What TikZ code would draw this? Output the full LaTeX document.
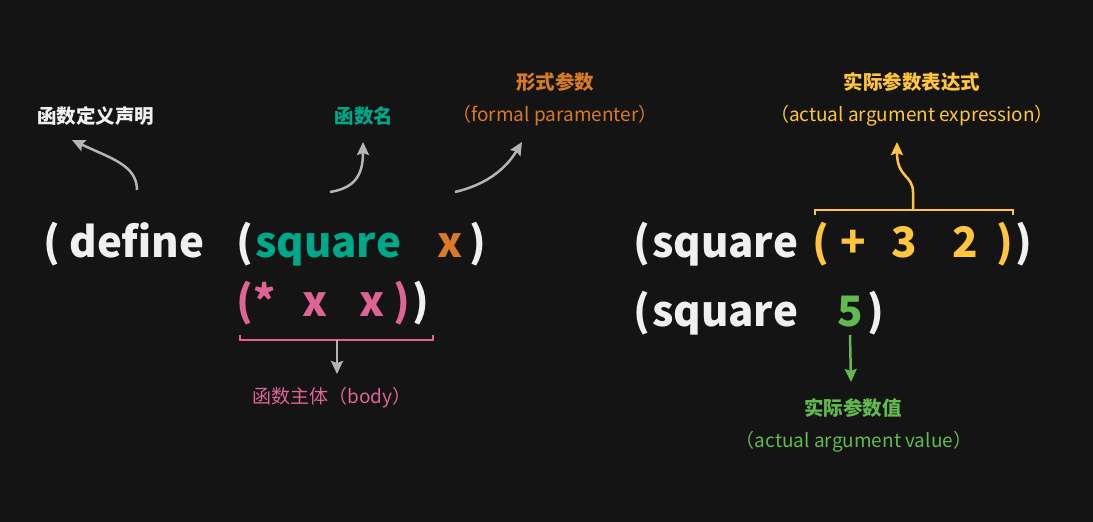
\documentclass[tikz,border=0pt]{standalone}
\usepackage{fontspec}
\setmainfont{Noto Sans CJK SC}
\usetikzlibrary{arrows.meta}

\definecolor{bg}{HTML}{141414}
\definecolor{codewhite}{HTML}{F0F0F0}
\definecolor{nameteal}{HTML}{00A88A}
\definecolor{paramorange}{HTML}{D97A26}
\definecolor{bodypink}{HTML}{DE6496}
\definecolor{argyellow}{HTML}{FFC53D}
\definecolor{valgreen}{HTML}{62B950}
\definecolor{arrowgray}{HTML}{B4B4B4}

\begin{document}
\begin{tikzpicture}[
    x=1pt, y=1pt,
    % styles for code tokens and annotations
    token/.style={font=\bfseries\fontsize{42}{50}\selectfont, anchor=base, inner sep=0pt, text=codewhite},
    cnlabel/.style={font=\bfseries\fontsize{19.5}{23}\selectfont, inner sep=0pt},
    enlabel/.style={font=\fontsize{19}{23}\selectfont, inner sep=0pt},
    pointer/.style={line width=2.5pt, -{Stealth[length=13pt, width=12pt, inset=2pt]}},
    brace/.style={line width=2.7pt},
]
\fill[bg] (0,0) rectangle (1093,522);

% -------------------------
% Definition: (define (square x) (* x x))
% -------------------------
\node (def-open) [token] at (52,264) {(};
\node (def-kw) [token] at (137,264) {define};
\node (sig-open) [token] at (245,264) {(};
\node (sig-name) [token, text=nameteal] at (328,264) {square};
\node (sig-param) [token, text=paramorange] at (450,264) {x};
\node (sig-close) [token] at (478,264) {)};

\node (body-open) [token, text=bodypink] at (245,205) {(};
\node (body-op) [token, text=bodypink] at (265,205) {*};
\node (body-x1) [token, text=bodypink] at (315,205) {x};
\node (body-x2) [token, text=bodypink] at (372,205) {x};
\node (body-close) [token, text=bodypink] at (402,205) {)};
\node (def-close) [token] at (421,205) {)};

% -------------------------
% Calls: (square (+ 3 2)) and (square 5)
% -------------------------
\node (call1-open) [token] at (642,264) {(};
\node (call1-name) [token] at (725,264) {square};
\node (expr-open) [token, text=argyellow] at (821,264) {(};
\node (expr-op) [token, text=argyellow] at (853,264) {+};
\node (expr-a) [token, text=argyellow] at (904,264) {3};
\node (expr-b) [token, text=argyellow] at (965,264) {2};
\node (expr-close) [token, text=argyellow] at (1005,264) {)};
\node (call1-close) [token] at (1024,264) {)};

\node (call2-open) [token] at (642,195) {(};
\node (call2-name) [token] at (725,195) {square};
\node (call2-val) [token, text=valgreen] at (850,195) {5};
\node (call2-close) [token] at (876,195) {)};

% -------------------------
% Annotations
% -------------------------
\node (def-cn) [cnlabel, text=codewhite] at (96,406) {函数定义声明};
\node (name-cn) [cnlabel, text=nameteal] at (364,406) {函数名};
\node (param-cn) [cnlabel, text=paramorange] at (555,440) {形式参数};
\node (param-en) [enlabel, text=paramorange] at (555,406) {（formal paramenter）};
\node (body-cn) [enlabel, text=bodypink] at (332,124) {函数主体（body）};
\node (expr-cn) [cnlabel, text=argyellow] at (912,440) {实际参数表达式};
\node (expr-en) [enlabel, text=argyellow] at (912,406) {（actual argument expression）};
\node (val-cn) [cnlabel, text=valgreen] at (853,114) {实际参数值};
\node (val-en) [enlabel, text=valgreen] at (854,80) {（actual argument value）};

% -------------------------
% Connectors
% -------------------------
\coordinate (def-tail) at (137,332);
\coordinate (def-tip) at (72,382);
\coordinate (name-tail) at (330,330);
\coordinate (name-tip) at (363,380);
\coordinate (param-tail) at (455,330);
\coordinate (param-tip) at (522,380);
\draw[pointer, arrowgray] (def-tail) .. controls +(0,25) and +(38,-18) .. (def-tip);
\draw[pointer, arrowgray] (name-tail) .. controls +(25,4) and +(0,-33) .. (name-tip);
\draw[pointer, arrowgray] (param-tail) .. controls +(30,7) and +(-17,-28) .. (param-tip);

% body bracket
\coordinate (body-mid) at (337,182);
\coordinate (body-tip) at (337,148);
\draw[brace, bodypink] (240,187) -- (240,182) -- (433,182) -- (433,187);
\draw[pointer, arrowgray] (body-mid) -- (body-tip);

% argument expression bracket
\coordinate (expr-mid) at (913,312);
\coordinate (expr-tip) at (897,380);
\draw[brace, argyellow] (815,307) -- (815,312) -- (1013,312) -- (1013,307);
\draw[pointer, argyellow] (expr-mid) -- ++(0,18) .. controls +(0,17) and +(0,-36) .. (expr-tip);

% argument value
\coordinate (val-tip) at (851,140);
\draw[pointer, valgreen] (call2-val.south |- 0,187) -- (val-tip);

\end{tikzpicture}
\end{document}
